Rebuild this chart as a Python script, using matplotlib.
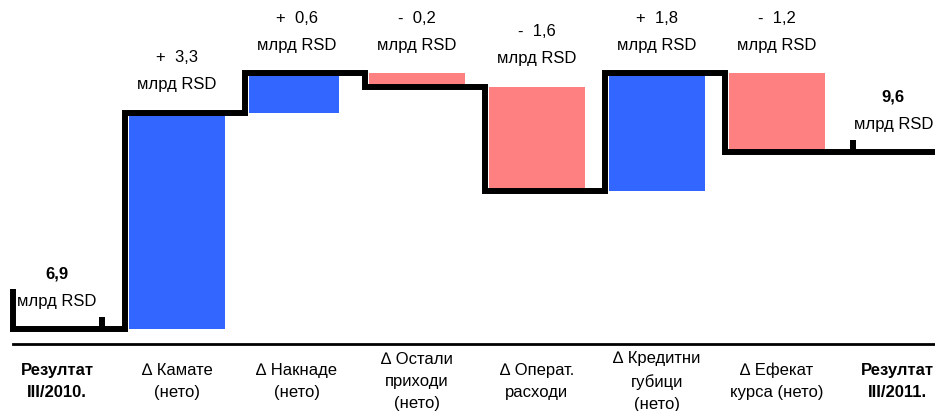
import matplotlib.pyplot as plt
import numpy as np

plt.rcParams['font.family'] = ['Liberation Sans', 'DejaVu Sans']

# data
categories = ['Резултат\nIII/2010.', '∆ Камате\n(нето)', '∆ Накнаде\n(нето)',
              '∆ Остали\nприходи\n(нето)', '∆ Операт.\nрасходи',
              '∆ Кредитни\nгубици\n(нето)', '∆ Ефекат\nкурса (нето)',
              'Резултат\nIII/2011.']
start_value = 6.9
changes = [3.3, 0.6, -0.2, -1.6, 1.8, -1.2]
end_value = 9.6
change_labels = ['+  3,3', '+  0,6', '-  0,2', '-  1,6', '+  1,8', '-  1,2']
total_labels = ['6,9', '9,6']
unit = 'млрд RSD'

blue = '#3366FF'
pink = '#FF8080'

levels = np.concatenate([[start_value], start_value + np.cumsum(changes)])

fig = plt.figure(figsize=(9.35, 4.11), dpi=100)
ax = fig.add_axes([0, 0, 1, 1])
ax.set_xlim(-0.475, 7.317)
ax.set_ylim(5.65, 11.92)
ax.axis('off')

lw = 4.3
# bars for the changes
widths = [0.8, 0.75, 0.8, 0.8, 0.8, 0.8]
for i, ch in enumerate(changes):
    x = i + 1
    bottom = levels[i] if ch > 0 else levels[i + 1]
    ax.bar(x - 0.4, abs(ch), bottom=bottom, width=widths[i], align='edge',
           color=blue if ch > 0 else pink, zorder=2)

# step line
xs = [-0.37, -0.37]
ys = [start_value + 0.61, start_value]
for i in range(len(changes)):
    xs += [i + 1 - 0.43, i + 1 - 0.43]
    ys += [levels[i], levels[i + 1]]
xs.append(7.4)
ys.append(end_value)
ax.plot(xs, ys, color='black', lw=lw, solid_joinstyle='miter',
        solid_capstyle='butt', zorder=3)
# small ticks
ax.plot([0.375, 0.375], [start_value, start_value + 0.18], color='black',
        lw=lw, solid_capstyle='butt', zorder=3)
ax.plot([6.63, 6.63], [end_value, end_value + 0.19], color='black',
        lw=lw, solid_capstyle='butt', zorder=3)

# separator line
ax.plot([-0.37, 7.4], [6.67, 6.67], color='black', lw=2, zorder=3)

fs = 12
# value labels
def put_labels(x, top, first, bold=False):
    ax.annotate(first, (x, top), xytext=(0, 55 * 0.72), textcoords='offset points',
                ha='center', va='center', fontsize=fs,
                fontweight='bold' if bold else 'normal')
    ax.annotate(unit, (x, top), xytext=(0, 28 * 0.72), textcoords='offset points',
                ha='center', va='center', fontsize=fs)

put_labels(0, start_value, total_labels[0], bold=True)
for i, ch in enumerate(changes):
    put_labels(i + 1, max(levels[i], levels[i + 1]), change_labels[i])
put_labels(6.97, end_value, total_labels[1], bold=True)

# category labels
for i, cat in enumerate(categories):
    bold = i in (0, len(categories) - 1)
    ax.text(i, 6.1, cat, ha='center', va='center', fontsize=fs,
            multialignment='center', linespacing=1.6,
            fontweight='bold' if bold else 'normal')

fig.savefig('out.png', dpi=100)
